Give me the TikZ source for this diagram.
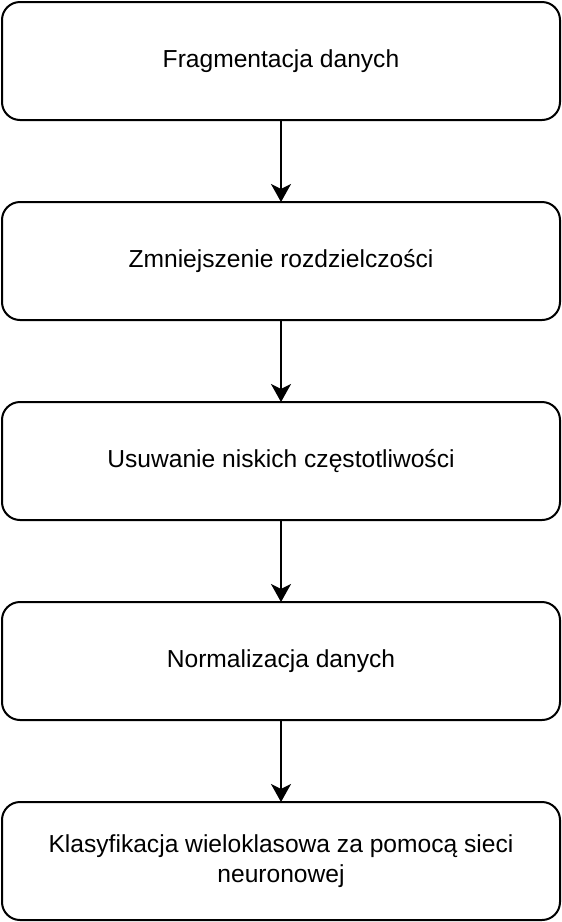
\documentclass[tikz,border=0pt]{standalone}
\usepackage{fontspec}
\setmainfont{Liberation Sans}
\usetikzlibrary{positioning,arrows.meta}

\tikzset{
    stage/.style={draw=black, line width=2pt, rounded corners=18pt, fill=white,
        minimum width=558pt, minimum height=118pt, outer sep=0pt,
        align=center, font=\fontsize{24.6}{29.5}\selectfont},
    flow/.style={-{Stealth[length=18pt,width=20pt,inset=5pt]}, line width=2pt}
}

\begin{document}
\begin{tikzpicture}[x=1pt,y=1pt,node distance=82pt]
    \useasboundingbox (0,0) rectangle (562,-922);

    \node[stage] (frag) at (281,-61) {Fragmentacja danych};
    \node[stage, below=of frag] (rozdz) {Zmniejszenie rozdzielczości};
    \node[stage, below=of rozdz] (niskie) {Usuwanie niskich częstotliwości};
    \node[stage, below=of niskie] (norm) {Normalizacja danych};
    \node[stage, below=of norm] (klas) {Klasyfikacja wieloklasowa za pomocą sieci\\neuronowej};

    \draw [flow] (frag) -- (rozdz);
    \draw [flow] (rozdz) -- (niskie);
    \draw [flow] (niskie) -- (norm);
    \draw [flow] (norm) -- (klas);
\end{tikzpicture}
\end{document}
